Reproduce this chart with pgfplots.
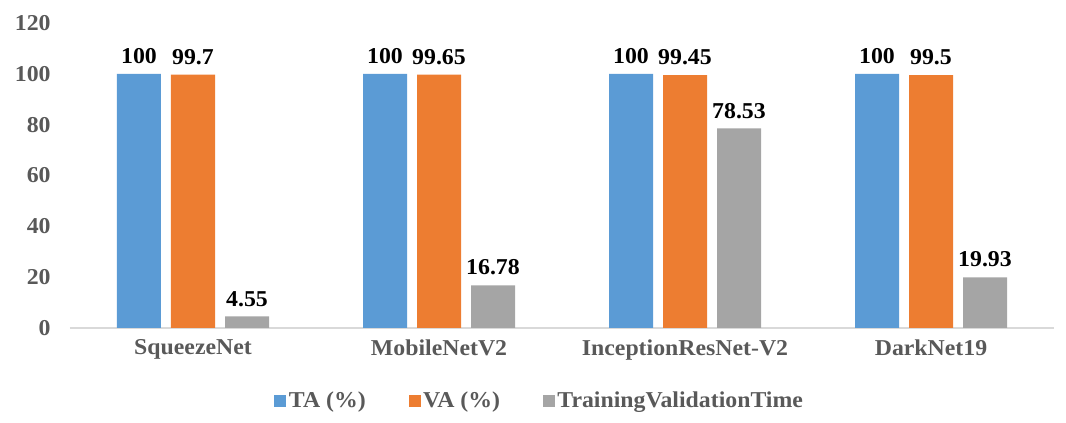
\documentclass[border=0pt]{standalone}
\usepackage{fontspec}
\setmainfont{Liberation Serif}[FakeStretch=1.05]
\usepackage{pgfplots}
\pgfplotsset{compat=1.18}
\definecolor{cBlue}{HTML}{5B9BD5}
\definecolor{cOrange}{HTML}{ED7D31}
\definecolor{cGray}{HTML}{A5A5A5}
\definecolor{txtGray}{HTML}{595959}
\definecolor{axGray}{HTML}{D9D9D9}
\newcommand{\chfont}{\fontsize{17}{20}\selectfont\bfseries}
\begin{document}
\begin{tikzpicture}[x=1pt,y=1pt]
\path[use as bounding box] (-52.5,-71.25) rectangle (747,246);
\begin{axis}[
  at={(0,0)}, anchor=south west,
  scale only axis, width=738pt, height=228.75pt,
  ybar=7.5pt, bar width=33pt,
  xmin=-0.5, xmax=3.5, ymin=0, ymax=120,
  xtick={0,1,2,3},
  xticklabels={SqueezeNet,MobileNetV2,InceptionResNet-V2,DarkNet19},
  ytick={0,20,40,60,80,100,120},
  axis x line*=bottom, axis y line*=left,
  x axis line style={draw=axGray, line width=0.8pt},
  y axis line style={draw=none},
  major tick length=0pt,
  /pgf/number format/assume math mode=true,
  tick label style={font=\chfont, text=txtGray},
  yticklabel style={xshift=-11pt},
  xticklabel style={yshift=-5pt},
  point meta=explicit symbolic,
  nodes near coords,
  every node near coord/.append style={font=\chfont, text=black, yshift=4pt},
  legend style={at={(0.4776,-0.239)}, anchor=center, draw=none, fill=none,
    legend columns=3, font=\chfont, text=txtGray,
    /tikz/every even column/.append style={column sep=30pt}},
  legend image code/.code={\fill[#1] (0pt,-4.5pt) rectangle (9pt,4.5pt);},
]
\addplot[fill=cBlue, draw=none] coordinates {(0,100)[100] (1,100)[100] (2,100)[100] (3,100)[100]};
\addplot[fill=cOrange, draw=none] coordinates {(0,99.7)[99.7] (1,99.65)[99.65] (2,99.45)[99.45] (3,99.5)[99.5]};
\addplot[fill=cGray, draw=none] coordinates {(0,4.55)[4.55] (1,16.78)[16.78] (2,78.53)[78.53] (3,19.93)[19.93]};
\legend{TA (\%), VA (\%), TrainingValidationTime}
\end{axis}
\end{tikzpicture}
\end{document}
